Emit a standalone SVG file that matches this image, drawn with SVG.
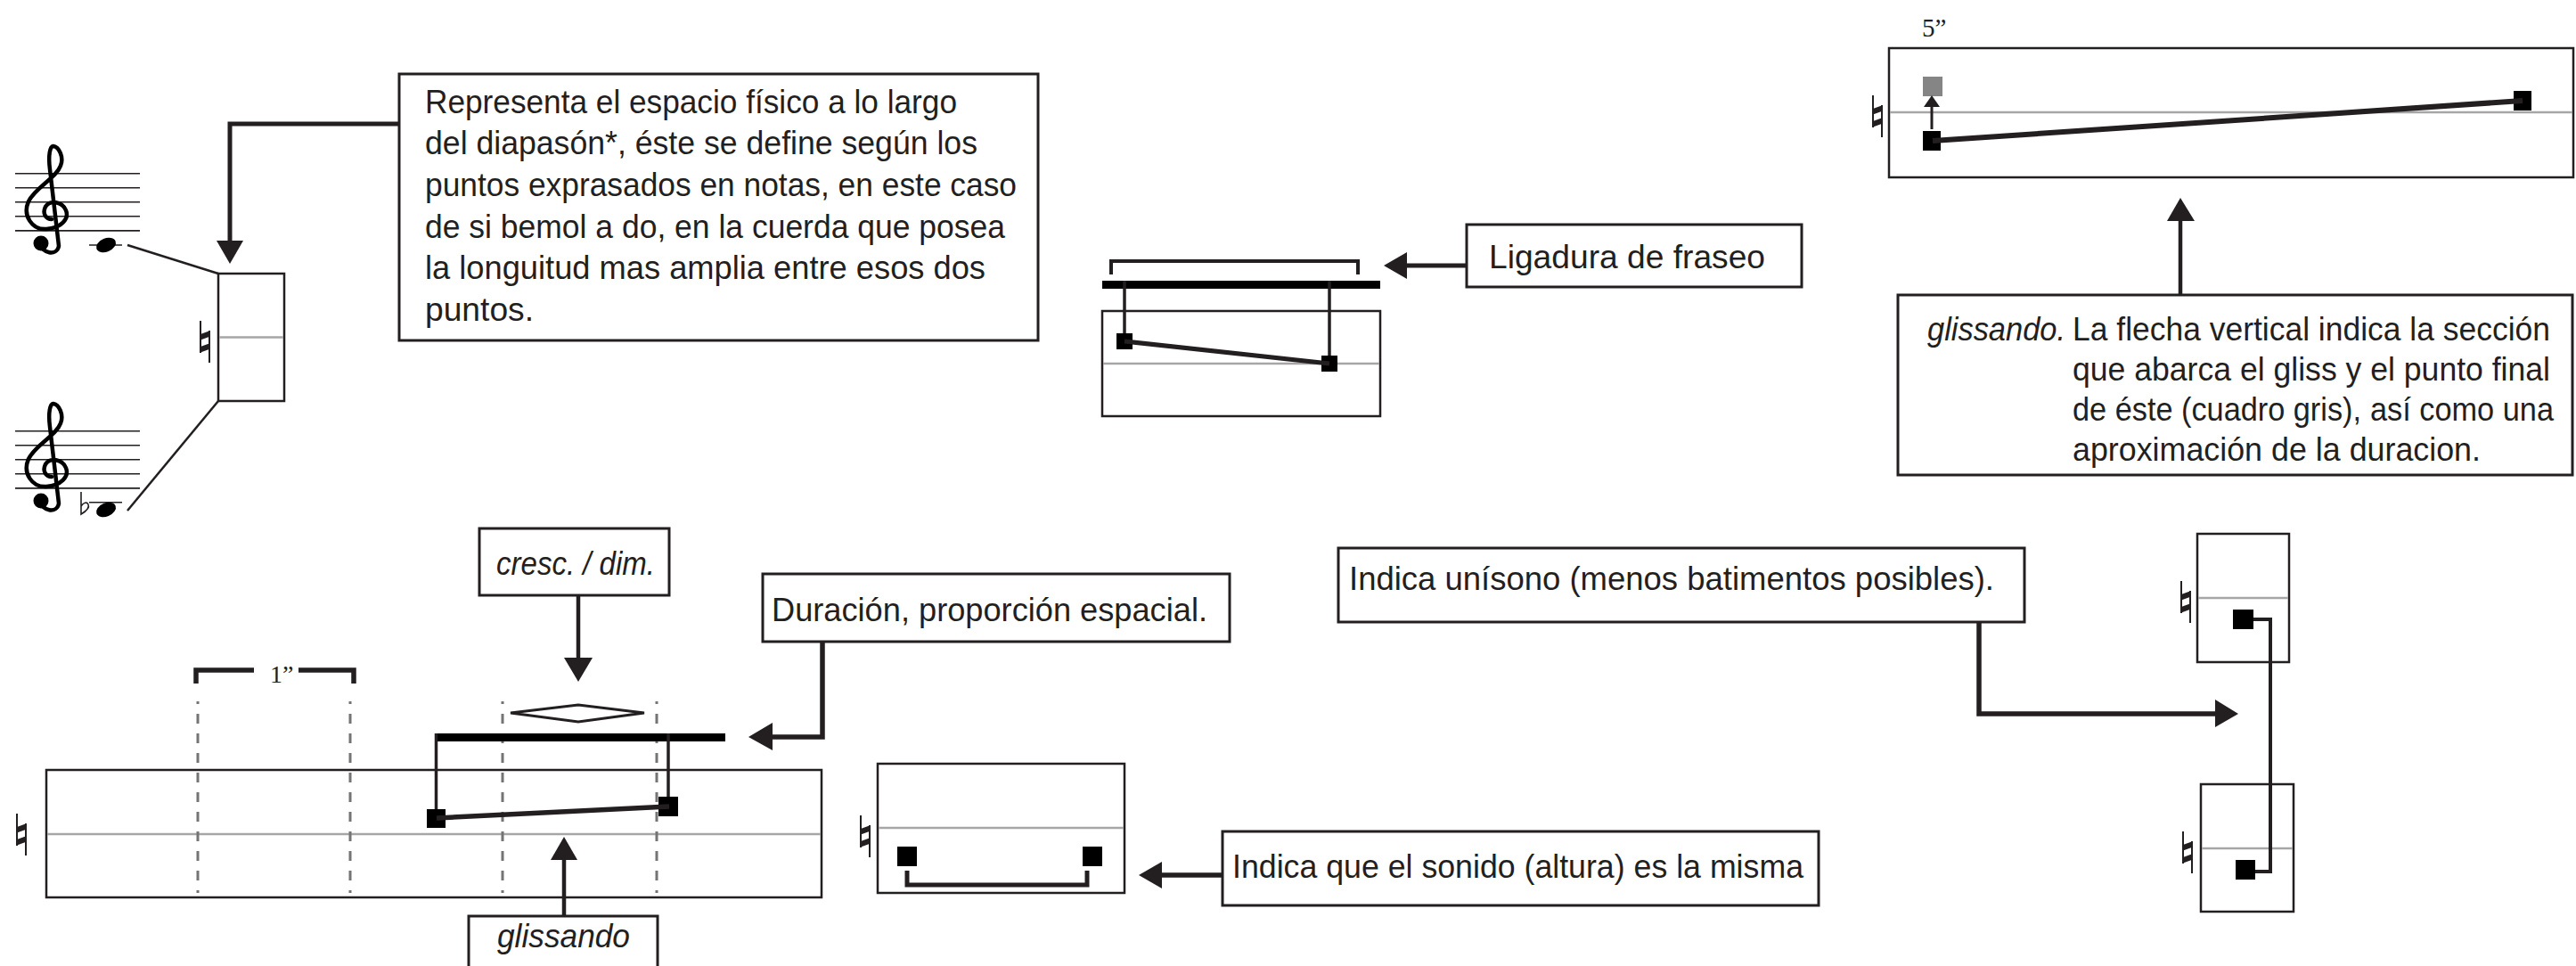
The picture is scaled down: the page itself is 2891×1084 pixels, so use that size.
<svg xmlns="http://www.w3.org/2000/svg" xmlns:xlink="http://www.w3.org/1999/xlink" width="2891" height="1084" viewBox="0 0 2891 1084">
<style>
.bx{fill:#fff;stroke:#231f20;stroke-width:3}
.sb{fill:#fff;stroke:#231f20;stroke-width:2.5}
.mid{stroke:#a6a6a6;stroke-width:2.5}
.t{font-family:"Liberation Sans Narrow","Liberation Sans",Arial,sans-serif;font-size:37px;fill:#231f20}
.it{font-style:italic}
.s{font-family:"Liberation Serif","Times New Roman",serif;fill:#231f20}
.ln{fill:none;stroke:#231f20;stroke-linecap:butt;stroke-linejoin:miter}
.hd{fill:#231f20}
.sq{fill:#000}
.dash{stroke:#747474;stroke-width:3;stroke-dasharray:11 11}
.staff{stroke:#231f20;stroke-width:1.6}
</style>
<defs>
<g id="nat">
<line x1="2" y1="0" x2="2" y2="36" stroke="#231f20" stroke-width="2"/>
<line x1="12" y1="11" x2="12" y2="47" stroke="#231f20" stroke-width="2"/>
<polygon points="2,15 13,11 13,17.5 2,21.5" fill="#231f20"/>
<polygon points="2,29 13,25 13,31.5 2,35.5" fill="#231f20"/>
</g>
<g id="clef">
<path d="M46 274 C46 284 64 288 66 276 L56 190 C54 175 56 163 60 164 C66 165 72 176 68 186 C63 200 40 210 32 226 C25 242 36 258 52 257 C68 256 78 246 74 236 C70 226 56 224 51 232 C47 240 52 246 58 246" fill="none" stroke="#000" stroke-width="4.5" stroke-linecap="round" stroke-linejoin="round"/>
<circle cx="46" cy="273" r="8.5" fill="#000"/>
</g>
<g id="staff5">
<line class="staff" x1="17" y1="194.7" x2="157" y2="194.7"/>
<line class="staff" x1="17" y1="210.8" x2="157" y2="210.8"/>
<line class="staff" x1="17" y1="226.8" x2="157" y2="226.8"/>
<line class="staff" x1="17" y1="242.8" x2="157" y2="242.8"/>
<line class="staff" x1="17" y1="258.9" x2="157" y2="258.9"/>
</g>
</defs>
<rect x="0" y="0" width="2891" height="1084" fill="#fff"/>

<!-- Top-left: staves and diapason box -->
<g id="staff-do">
<use xlink:href="#staff5"/>
<use xlink:href="#clef"/>
<line class="staff" x1="100" y1="275" x2="137" y2="275"/>
<ellipse cx="119" cy="275" rx="11.5" ry="7.5" transform="rotate(-22 119 275)" fill="#000"/>
</g>
<g id="staff-sib">
<g transform="translate(0,289)">
<use xlink:href="#staff5"/>
<use xlink:href="#clef"/>
</g>
<line class="staff" x1="100" y1="563.7" x2="137" y2="563.7"/>
<ellipse cx="119" cy="572" rx="11.5" ry="7.5" transform="rotate(-22 119 572)" fill="#000"/>
<path d="M91 552 V577 C96 574 101 570 99 566 C97 562 93 565 91 568" fill="none" stroke="#231f20" stroke-width="1.6"/>
</g>
<g id="diapason">
<rect class="sb" x="245" y="307" width="74" height="143"/>
<line class="mid" x1="246" y1="378.5" x2="318" y2="378.5"/>
<use xlink:href="#nat" x="223" y="360"/>
</g>
<g id="box-representa">
<rect class="bx" x="448" y="83" width="717" height="299"/>
<text class="t" x="477" y="127" textLength="597" lengthAdjust="spacingAndGlyphs">Representa el espacio físico a lo largo</text>
<text class="t" x="477" y="173" textLength="620" lengthAdjust="spacingAndGlyphs">del diapasón*, éste se define según los</text>
<text class="t" x="477" y="220" textLength="664" lengthAdjust="spacingAndGlyphs">puntos exprasados en notas, en este caso</text>
<text class="t" x="477" y="267" textLength="651" lengthAdjust="spacingAndGlyphs">de si bemol a do, en la cuerda que posea</text>
<text class="t" x="477" y="313" textLength="629" lengthAdjust="spacingAndGlyphs">la longuitud mas amplia entre esos dos</text>
<text class="t" x="477" y="360" textLength="122" lengthAdjust="spacingAndGlyphs">puntos.</text>
</g>

<!-- Ligadura de fraseo -->
<g id="slur-example">
<rect class="sb" x="1237" y="349" width="312" height="118"/>
<line class="mid" x1="1238" y1="408" x2="1548" y2="408"/>
<path class="ln" d="M1247 308 V293 H1524 V308" stroke-width="4"/>
<rect x="1237" y="315" width="312" height="9" fill="#000"/>
<line class="ln" x1="1262" y1="315" x2="1262" y2="383" stroke-width="3.5"/>
<line class="ln" x1="1492" y1="315" x2="1492" y2="408" stroke-width="3.5"/>
<rect class="sq" x="1253" y="374" width="18" height="18"/>
<rect class="sq" x="1483" y="399" width="18" height="18"/>
<line class="ln" x1="1262" y1="383" x2="1492" y2="408" stroke-width="5"/>
</g>
<g id="box-ligadura">
<rect class="bx" x="1646" y="252" width="376" height="70"/>
<text class="t" x="1671" y="301" textLength="310" lengthAdjust="spacingAndGlyphs">Ligadura de fraseo</text>
</g>

<!-- Top right gliss -->
<g id="gliss-staff">
<text class="s" x="2157" y="41" font-size="29">5”</text>
<rect class="sb" x="2120" y="54" width="768" height="145"/>
<line class="mid" x1="2121" y1="126" x2="2887" y2="126"/>
<use xlink:href="#nat" x="2100" y="107"/>
<rect x="2158" y="86" width="22" height="22" fill="#858585"/>
<rect class="sq" x="2158" y="147" width="20" height="22"/>
<rect class="sq" x="2821" y="102" width="20" height="22"/>
<line class="ln" x1="2169" y1="158" x2="2831" y2="113" stroke-width="6"/>
<line class="ln" x1="2168" y1="145" x2="2168" y2="118" stroke-width="3"/>
<polygon class="hd" points="2159,120 2177,120 2168,107"/>
</g>
<g id="box-glissando-desc">
<rect class="bx" x="2130" y="331" width="757" height="202"/>
<text class="t it" x="2163" y="382" textLength="155" lengthAdjust="spacingAndGlyphs">glissando.</text>
<text class="t" x="2326" y="382" textLength="536" lengthAdjust="spacingAndGlyphs">La flecha vertical indica la sección</text>
<text class="t" x="2326" y="427" textLength="536" lengthAdjust="spacingAndGlyphs">que abarca el gliss y el punto final</text>
<text class="t" x="2326" y="472" textLength="324" lengthAdjust="spacingAndGlyphs">de éste (cuadro gris),</text>
<text class="t" x="2660" y="472" textLength="206" lengthAdjust="spacingAndGlyphs">así como una</text>
<text class="t" x="2326" y="517" textLength="458" lengthAdjust="spacingAndGlyphs">aproximación de la duracion.</text>
</g>

<!-- Bottom left: proportional staff -->
<g id="time-staff">
<path class="ln" d="M220 767 V752 H285" stroke-width="5.5"/>
<path class="ln" d="M335 752 H397 V767" stroke-width="5.5"/>
<text class="s" x="303" y="766" font-size="28">1”</text>
<rect class="sb" x="52" y="864" width="870" height="143"/>
<line class="mid" x1="53" y1="936" x2="921" y2="936"/>
<use xlink:href="#nat" x="17" y="913"/>
<line class="dash" x1="222" y1="787" x2="222" y2="1002" stroke-dashoffset="8"/>
<line class="dash" x1="393" y1="787" x2="393" y2="1002" stroke-dashoffset="8"/>
<line class="dash" x1="564" y1="787" x2="564" y2="1002" stroke-dashoffset="8"/>
<line class="dash" x1="737" y1="787" x2="737" y2="1002" stroke-dashoffset="8"/>
<polygon points="573,800 649,791 723,800 649,810" fill="#fff" stroke="#231f20" stroke-width="3"/>
<rect x="488" y="823" width="326" height="9" fill="#000"/>
<line class="ln" x1="489.5" y1="823" x2="489.5" y2="918" stroke-width="3.5"/>
<line class="ln" x1="750" y1="823" x2="750" y2="905" stroke-width="3.5"/>
<rect class="sq" x="479" y="908" width="21" height="21"/>
<rect class="sq" x="739" y="894" width="22" height="22"/>
<line class="ln" x1="490" y1="918" x2="751" y2="905" stroke-width="5.5"/>
</g>
<g id="box-cresc">
<rect class="bx" x="538" y="593" width="213" height="75"/>
<text class="t it" x="557" y="645" textLength="178" lengthAdjust="spacingAndGlyphs">cresc. / dim.</text>
</g>
<g id="box-duracion">
<rect class="bx" x="856" y="644" width="524" height="76"/>
<text class="t" x="866" y="697" textLength="489" lengthAdjust="spacingAndGlyphs">Duración, proporción espacial.</text>
</g>
<g id="box-glissando">
<rect class="bx" x="526" y="1028" width="212" height="70"/>
<text class="t it" x="558" y="1063" textLength="149" lengthAdjust="spacingAndGlyphs">glissando</text>
</g>

<!-- Same pitch -->
<g id="same-pitch">
<rect class="sb" x="985" y="857" width="277" height="145"/>
<line class="mid" x1="986" y1="929" x2="1261" y2="929"/>
<use xlink:href="#nat" x="964" y="915"/>
<rect class="sq" x="1007" y="950" width="22" height="22"/>
<rect class="sq" x="1215" y="950" width="22" height="22"/>
<path class="ln" d="M1018 977 V993 H1220 V977" stroke-width="5"/>
</g>
<g id="box-misma">
<rect class="bx" x="1372" y="933" width="669" height="83"/>
<text class="t" x="1383" y="985" textLength="641" lengthAdjust="spacingAndGlyphs">Indica que el sonido (altura) es la misma</text>
</g>

<!-- Unison -->
<g id="box-unisono">
<rect class="bx" x="1502" y="615" width="770" height="83"/>
<text class="t" x="1514" y="662" textLength="724" lengthAdjust="spacingAndGlyphs">Indica unísono (menos batimentos posibles).</text>
</g>
<g id="unison-upper">
<rect class="sb" x="2466" y="599" width="103" height="144"/>
<line class="mid" x1="2467" y1="671" x2="2568" y2="671"/>
<use xlink:href="#nat" x="2446" y="652"/>
<rect class="sq" x="2506" y="684" width="23" height="22"/>
</g>
<g id="unison-lower">
<rect class="sb" x="2470" y="880" width="104" height="143"/>
<line class="mid" x1="2471" y1="952" x2="2573" y2="952"/>
<use xlink:href="#nat" x="2448" y="933"/>
<rect class="sq" x="2509" y="965" width="22" height="22"/>
</g>

<!-- Connectors -->
<g id="connectors">
<line x1="143" y1="275" x2="245" y2="307" stroke="#231f20" stroke-width="2.5"/>
<line x1="143" y1="573" x2="245" y2="450" stroke="#231f20" stroke-width="2.5"/>
<path class="ln" d="M448 139 H258 V272" stroke-width="5"/>
<polygon class="hd" points="243,270 273,270 258,296"/>
<line class="ln" x1="1646" y1="298" x2="1577" y2="298" stroke-width="5"/>
<polygon class="hd" points="1579,283 1579,313 1553,298"/>
<line class="ln" x1="2447" y1="331" x2="2447" y2="246" stroke-width="4.5"/>
<polygon class="hd" points="2432,248 2463,248 2447,222"/>
<line class="ln" x1="649" y1="668" x2="649" y2="740" stroke-width="4.5"/>
<polygon class="hd" points="633,738 665,738 649,765"/>
<path class="ln" d="M923 720 V827 H865" stroke-width="5.5"/>
<polygon class="hd" points="867,811 867,842 840,827"/>
<line class="ln" x1="633" y1="1028" x2="633" y2="962" stroke-width="4.5"/>
<polygon class="hd" points="618,965 648,965 633,939"/>
<line class="ln" x1="1372" y1="982" x2="1302" y2="982" stroke-width="5.5"/>
<polygon class="hd" points="1304,967 1304,997 1278,982"/>
<path class="ln" d="M2221 698 V801 H2488" stroke-width="5.5"/>
<polygon class="hd" points="2486,785 2486,816 2512,801"/>
<path class="ln" d="M2529 695 H2548 V978 H2531" stroke-width="4"/>
</g>
</svg>
